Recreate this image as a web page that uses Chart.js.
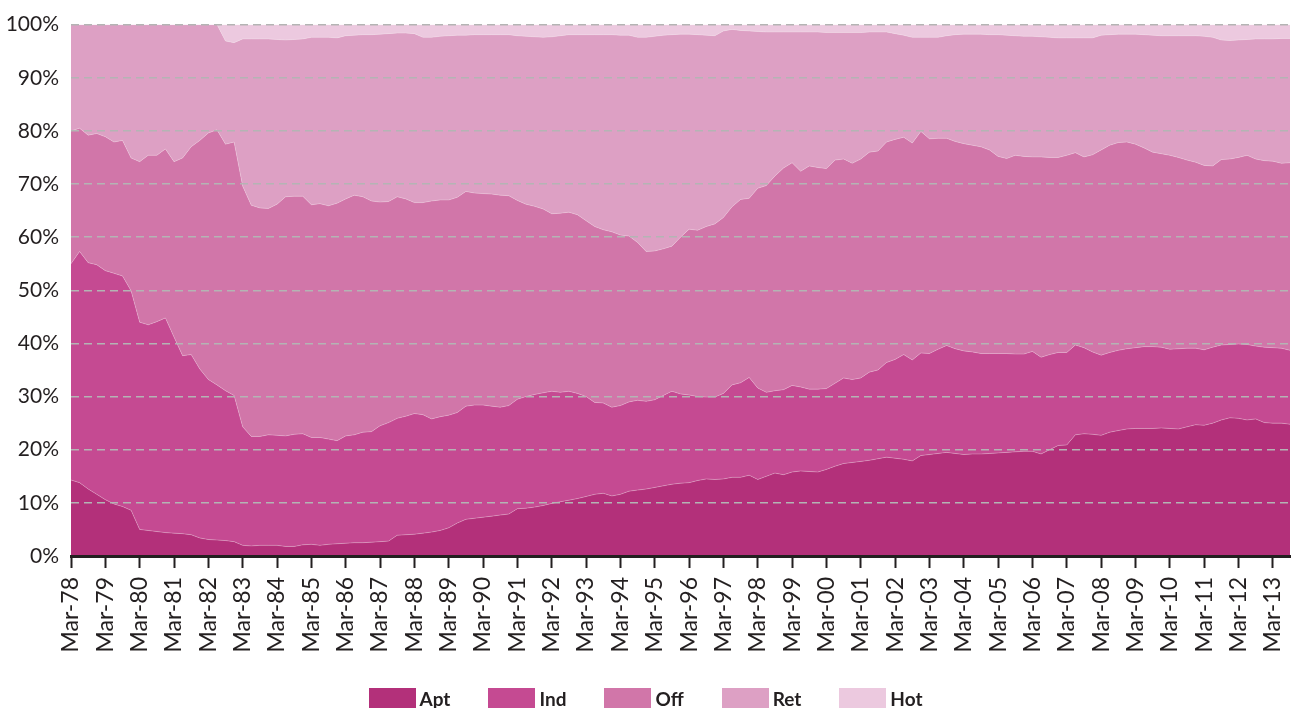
<!DOCTYPE html>
<html>
<head>
<meta charset="utf-8">
<script src="https://cdn.jsdelivr.net/npm/chart.js@4.4.1/dist/chart.umd.min.js"></script>
<style>
    html, body { margin: 0; padding: 0; background: #fff; }
    #wrap { position: relative; width: 1291px; height: 708px; }
    #legend {
        position: absolute; left: 0; right: 0; top: 688px;
        display: flex; justify-content: center; gap: 38px;
        font-family: Lato, 'Open Sans', sans-serif; font-weight: bold; font-size: 19px; color: #231f20;
    }
    #legend .item { display: flex; align-items: center; height: 20px; }
    #legend .box { width: 47px; height: 20px; margin-right: 4px; }
</style>
</head>
<body>
<div id="wrap">
    <canvas id="mixChart"></canvas>
    <div id="legend"></div>
</div>
<script>
// Quarterly share of each sector (%), Mar-78 .. Sep-13
const quarterMonths = ['Mar', 'Jun', 'Sep', 'Dec'];
const yearLabels = ['78', '79', '80', '81', '82', '83', '84', '85', '86', '87', '88', '89',
    '90', '91', '92', '93', '94', '95', '96', '97', '98', '99', '00', '01', '02', '03',
    '04', '05', '06', '07', '08', '09', '10', '11', '12', '13'];
const yTicks = [0, 10, 20, 30, 40, 50, 60, 70, 80, 90, 100];

const seriesNames = ['Apt', 'Ind', 'Off', 'Ret', 'Hot'];

const apt = [14.3, 13.8, 12.6, 11.6, 10.6, 9.8, 9.3, 8.6, 5.0, 4.8,
    4.6, 4.4, 4.3, 4.2, 4.0, 3.4, 3.1, 3.0, 2.9, 2.7,
    2.0, 1.9, 2.0, 2.0, 2.0, 1.8, 1.8, 2.1, 2.2, 2.0,
    2.2, 2.3, 2.4, 2.5, 2.5, 2.6, 2.7, 2.8, 3.9, 4.0,
    4.1, 4.3, 4.5, 4.8, 5.3, 6.2, 6.9, 7.1, 7.3, 7.5,
    7.7, 7.9, 8.9, 9.0, 9.2, 9.5, 9.9, 10.2, 10.5, 10.8,
    11.2, 11.6, 11.8, 11.3, 11.6, 12.2, 12.4, 12.6, 12.9, 13.2,
    13.5, 13.7, 13.8, 14.2, 14.5, 14.4, 14.5, 14.8, 14.8, 15.2,
    14.4, 15.0, 15.6, 15.3, 15.8, 16.0, 15.9, 15.8, 16.3, 16.9,
    17.4, 17.6, 17.8, 18.0, 18.3, 18.6, 18.4, 18.2, 17.9, 18.9,
    19.1, 19.3, 19.5, 19.3, 19.1, 19.2, 19.2, 19.3, 19.4, 19.5,
    19.6, 19.7, 19.7, 19.2, 20.0, 20.8, 20.9, 22.8, 23.0, 22.9,
    22.7, 23.3, 23.6, 23.9, 24.0, 24.0, 24.0, 24.1, 24.0, 23.9,
    24.3, 24.7, 24.6, 25.0, 25.6, 26.0, 25.9, 25.6, 25.8, 25.1,
    25.0, 25.0, 24.8];

const ind = [40.7, 43.5, 42.6, 43.2, 43.1, 43.4, 43.4, 41.3, 39.0, 38.7,
    39.5, 40.4, 36.9, 33.5, 33.9, 31.8, 30.1, 29.2, 28.2, 27.5,
    22.3, 20.6, 20.5, 20.8, 20.7, 20.8, 21.1, 20.9, 20.1, 20.3,
    19.8, 19.4, 20.2, 20.3, 20.8, 20.8, 21.8, 22.3, 22.0, 22.3,
    22.7, 22.3, 21.3, 21.4, 21.2, 20.8, 21.3, 21.3, 21.1, 20.7,
    20.3, 20.4, 20.6, 21.0, 21.2, 21.2, 21.1, 20.6, 20.5, 19.8,
    18.8, 17.3, 17.0, 16.7, 16.7, 16.8, 16.9, 16.5, 16.5, 17.0,
    17.5, 16.8, 16.5, 15.8, 15.4, 15.5, 16.1, 17.4, 17.8, 18.4,
    17.2, 15.8, 15.5, 16.0, 16.3, 15.8, 15.5, 15.6, 15.2, 15.6,
    16.1, 15.6, 15.7, 16.6, 16.7, 17.8, 18.6, 19.7, 19.0, 19.3,
    19.0, 19.6, 20.1, 19.7, 19.5, 19.2, 18.9, 18.8, 18.7, 18.6,
    18.4, 18.3, 18.8, 18.2, 17.9, 17.5, 17.4, 16.9, 16.2, 15.5,
    15.1, 15.0, 15.1, 15.1, 15.2, 15.4, 15.4, 15.2, 14.9, 15.1,
    14.8, 14.4, 14.2, 14.3, 14.1, 13.8, 14.0, 14.2, 13.7, 14.2,
    14.2, 14.1, 13.9];

const off = [25.0, 23.2, 24.0, 24.7, 25.2, 24.7, 25.5, 25.0, 30.2, 31.9,
    31.3, 31.8, 33.0, 37.2, 39.1, 43.0, 46.4, 48.0, 46.4, 47.7,
    45.3, 43.5, 43.0, 42.6, 43.5, 45.0, 44.8, 44.7, 43.8, 44.0,
    43.9, 44.7, 44.6, 45.1, 44.3, 43.4, 42.1, 41.6, 41.7, 40.9,
    39.7, 39.9, 41.0, 40.8, 40.5, 40.5, 40.4, 39.9, 39.8, 39.9,
    39.9, 39.5, 37.4, 36.2, 35.4, 34.6, 33.4, 33.7, 33.7, 33.6,
    33.1, 33.1, 32.6, 33.0, 32.1, 31.2, 29.7, 28.2, 28.0, 27.6,
    27.3, 29.5, 31.2, 31.3, 32.1, 32.6, 33.1, 33.5, 34.5, 33.7,
    37.6, 38.9, 40.4, 41.7, 41.9, 40.6, 42.0, 41.7, 41.4, 42.0,
    41.2, 40.7, 41.2, 41.4, 41.2, 41.5, 41.4, 40.9, 40.8, 41.7,
    40.4, 39.7, 39.0, 39.0, 39.0, 38.9, 38.9, 38.3, 37.1, 36.7,
    37.4, 37.2, 36.6, 37.7, 37.1, 36.7, 37.1, 36.2, 35.9, 37.1,
    38.6, 39.0, 39.1, 38.9, 38.3, 37.4, 36.6, 36.4, 36.5, 36.0,
    35.4, 35.0, 34.7, 34.1, 34.9, 34.9, 35.1, 35.6, 35.2, 35.1,
    35.1, 34.8, 35.3];

const ret = [20.0, 19.5, 20.8, 20.5, 21.1, 22.1, 21.8, 25.1, 25.8, 24.6,
    24.6, 23.4, 25.8, 25.1, 23.0, 21.8, 20.4, 19.8, 19.4, 18.7,
    27.7, 31.3, 31.8, 31.9, 31.0, 29.5, 29.5, 29.6, 31.5, 31.3,
    31.7, 31.1, 30.7, 30.1, 30.5, 31.3, 31.6, 31.6, 30.8, 31.2,
    31.8, 31.1, 30.8, 30.8, 30.9, 30.5, 29.4, 29.8, 29.9, 30.0,
    30.2, 30.3, 31.0, 31.6, 31.9, 32.3, 33.3, 33.4, 33.4, 33.9,
    35.0, 36.1, 36.7, 37.1, 37.6, 37.8, 38.6, 40.3, 40.4, 40.2,
    39.8, 38.2, 36.7, 36.8, 36.0, 35.4, 35.1, 33.4, 31.8, 31.5,
    29.5, 28.9, 27.1, 25.6, 24.6, 26.2, 25.2, 25.5, 25.6, 24.0,
    23.8, 24.6, 23.8, 22.6, 22.4, 20.7, 19.9, 19.2, 19.9, 17.7,
    19.1, 19.0, 19.3, 20.1, 20.6, 20.9, 21.2, 21.7, 22.9, 23.2,
    22.5, 22.6, 22.7, 22.6, 22.6, 22.5, 22.1, 21.6, 22.4, 22.0,
    21.6, 20.8, 20.4, 20.3, 20.7, 21.3, 22.0, 22.2, 22.5, 22.9,
    23.4, 23.8, 24.3, 24.2, 22.5, 22.3, 22.1, 21.8, 22.6, 22.9,
    23.0, 23.5, 23.4];

const hot = [0, 0, 0, 0, 0, 0, 0, 0, 0, 0,
    0, 0, 0, 0, 0, 0, 0, 0, 3.1, 3.4,
    2.7, 2.7, 2.7, 2.7, 2.8, 2.9, 2.8, 2.7, 2.4, 2.4,
    2.4, 2.5, 2.1, 2.0, 1.9, 1.9, 1.8, 1.7, 1.6, 1.6,
    1.7, 2.4, 2.4, 2.2, 2.1, 2.0, 2.0, 1.9, 1.9, 1.9,
    1.9, 1.9, 2.1, 2.2, 2.3, 2.4, 2.3, 2.1, 1.9, 1.9,
    1.9, 1.9, 1.9, 1.9, 2.0, 2.0, 2.4, 2.4, 2.2, 2.0,
    1.9, 1.8, 1.8, 1.9, 2.0, 2.1, 1.2, 0.9, 1.1, 1.2,
    1.3, 1.4, 1.4, 1.4, 1.4, 1.4, 1.4, 1.4, 1.5, 1.5,
    1.5, 1.5, 1.5, 1.4, 1.4, 1.4, 1.7, 2.0, 2.4, 2.4,
    2.4, 2.4, 2.1, 1.9, 1.8, 1.8, 1.8, 1.9, 1.9, 2.0,
    2.1, 2.2, 2.2, 2.3, 2.4, 2.5, 2.5, 2.5, 2.5, 2.5,
    2.0, 1.9, 1.8, 1.8, 1.8, 1.9, 2.0, 2.1, 2.1, 2.1,
    2.1, 2.1, 2.2, 2.4, 2.9, 3.0, 2.9, 2.8, 2.7, 2.7,
    2.7, 2.6, 2.6];

const seriesColors = ['#b3307a', '#c54a92', '#d176a9', '#dda0c4', '#ecc9df'];

// quarter labels, one per data point
const categories = [];
yearLabels.forEach(yy => quarterMonths.forEach(m => categories.push(m + '-' + yy)));
categories.length = apt.length;

const textColor = '#231f20';
const fontFamily = 'Lato, "Open Sans", sans-serif';

const allSeries = [apt, ind, off, ret, hot];
const datasets = allSeries.map((values, i) => ({
    label: seriesNames[i],
    data: values,
    backgroundColor: seriesColors[i],
    borderColor: 'rgba(255,255,255,0.25)',
    borderWidth: 1,
    pointRadius: 0,
    tension: 0,
    fill: i === 0 ? 'origin' : '-1'
}));

// legend
const legendEl = document.getElementById('legend');
seriesNames.forEach((name, i) => {
    const item = document.createElement('div');
    item.className = 'item';
    item.innerHTML = '<span class="box" style="background:' + seriesColors[i] + '"></span><span>' + name + '</span>';
    legendEl.appendChild(item);
});

new Chart(document.getElementById('mixChart'), {
    type: 'line',
    data: { labels: categories, datasets: datasets },
    options: {
        responsive: true,
        maintainAspectRatio: false,
        animation: false,
        layout: { padding: { top: 11, right: 1, left: 0, bottom: 0 } },
        plugins: {
            legend: { display: false },
            tooltip: { enabled: false }
        },
        scales: {
            x: {
                offset: false,
                // keep one tick per year (every March)
                afterBuildTicks: function(scale) {
                    scale.ticks = scale.ticks.filter(t => t.value % 4 === 0);
                },
                afterFit: function(scale) {
                    scale.height = 152;
                    scale.paddingRight = 0;
                },
                grid: {
                    drawOnChartArea: false,
                    drawTicks: true,
                    tickLength: 12,
                    tickWidth: 2,
                    tickColor: textColor,
                    z: 1
                },
                border: { display: true, color: textColor, width: 3, z: 2 },
                ticks: {
                    autoSkip: false,
                    minRotation: 90,
                    maxRotation: 90,
                    padding: 9,
                    color: textColor,
                    font: { family: fontFamily, size: 23 },
                    callback: function(val) {
                        return this.getLabelForValue(val);
                    }
                }
            },
            y: {
                stacked: true,
                min: yTicks[0],
                max: yTicks[yTicks.length - 1],
                afterFit: function(scale) { scale.width = 71; },
                grid: {
                    color: ctx => (ctx.tick && ctx.tick.value === 0 ? 'rgba(0,0,0,0)' : '#b4b4b4'),
                    lineWidth: 1.5,
                    drawTicks: false,
                    z: 1
                },
                border: { display: false, dash: [8, 5] },
                ticks: {
                    stepSize: 10,
                    padding: 12,
                    color: textColor,
                    font: { family: fontFamily, size: 21 },
                    callback: v => v + '%'
                }
            }
        }
    }
});
</script>
</body>
</html>
